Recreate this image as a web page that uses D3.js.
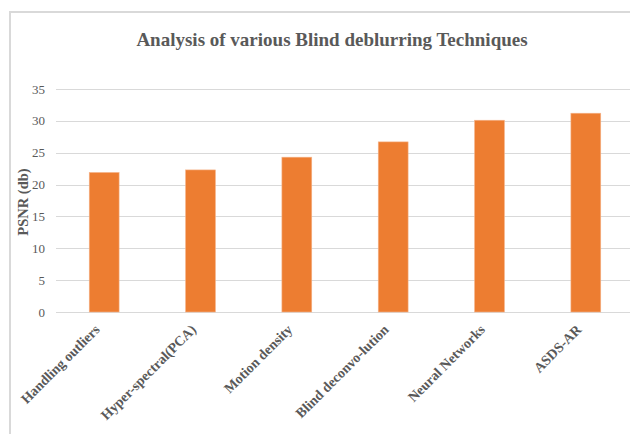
<!DOCTYPE html>
<html>
<head>
<meta charset="utf-8">
<script src="https://cdn.jsdelivr.net/npm/d3@7"></script>
<style>
  body { margin: 0; background: #fff; }
  svg { display: block; font-family: "Liberation Serif", "Times New Roman", serif; }
  .grid line { stroke: #d9d9d9; stroke-width: 1; }
  .tick-label { fill: #595959; font-size: 13px; }
  .x-label { fill: #595959; font-size: 14px; font-weight: bold; }
  .title { fill: #595959; font-size: 19px; font-weight: bold; }
  .y-title { fill: #595959; font-size: 14.5px; font-weight: bold; }
</style>
</head>
<body>
<svg id="chart" width="630" height="434"></svg>
<script>
// data
const categories = ["Handling outliers", "Hyper-spectral(PCA)", "Motion density",
                    "Blind deconvo-lution", "Neural Networks", "ASDS-AR"];
const psnr = [21.9, 22.3, 24.3, 26.7, 30.1, 31.2];
const yTicks = [0, 5, 10, 15, 20, 25, 30, 35];

const margin = {top: 89, right: -4, bottom: 122, left: 56};
const W = 630, H = 434;
const width = W - margin.left - margin.right;
const height = H - margin.top - margin.bottom;

const svg = d3.select("#chart");

// chart frame (runs off the right and bottom edge)
svg.append("rect")
    .attr("x", 10).attr("y", 12)
    .attr("width", 640).attr("height", 440)
    .attr("fill", "none").attr("stroke", "#d9d9d9").attr("stroke-width", 2);

svg.append("text").attr("class", "title")
    .attr("x", 332).attr("y", 46)
    .attr("text-anchor", "middle")
    .text("Analysis of various Blind deblurring Techniques");

const g = svg.append("g").attr("transform", `translate(${margin.left},${margin.top})`);

const x = d3.scaleBand().domain(categories).range([0, width]).paddingInner(0.69).paddingOuter(0.345);
const y = d3.scaleLinear().domain([0, 35]).range([height, 0]);

// gridlines
g.append("g").attr("class", "grid")
  .selectAll("line").data(yTicks).join("line")
    .attr("x1", 0).attr("x2", width + 10)
    .attr("y1", d => Math.round(y(d)) + 0.5).attr("y2", d => Math.round(y(d)) + 0.5);

// y tick labels
g.append("g").selectAll("text").data(yTicks).join("text")
    .attr("class", "tick-label")
    .attr("x", -11).attr("y", d => y(d))
    .attr("dy", "0.35em")
    .attr("text-anchor", "end")
    .text(d => d);

// bars
g.append("g").selectAll("rect").data(psnr).join("rect")
    .attr("x", (d, i) => x(categories[i]))
    .attr("y", d => y(d))
    .attr("width", x.bandwidth())
    .attr("height", d => y(0) - y(d))
    .attr("fill", "#ed7d31")
    .attr("stroke", "#f5b58c").attr("stroke-width", 0.6);

// rotated category labels
g.append("g").selectAll("text").data(categories).join("text")
    .attr("class", "x-label")
    .attr("text-anchor", "end")
    .attr("transform", d => `translate(${x(d) + x.bandwidth() / 2 - 7},${height + 15}) rotate(-45)`)
    .attr("dy", "0.35em")
    .text(d => d);

// y axis title
svg.append("text").attr("class", "y-title")
    .attr("transform", "translate(28,202) rotate(-90)")
    .attr("text-anchor", "middle")
    .text("PSNR (db)");
</script>
</body>
</html>
